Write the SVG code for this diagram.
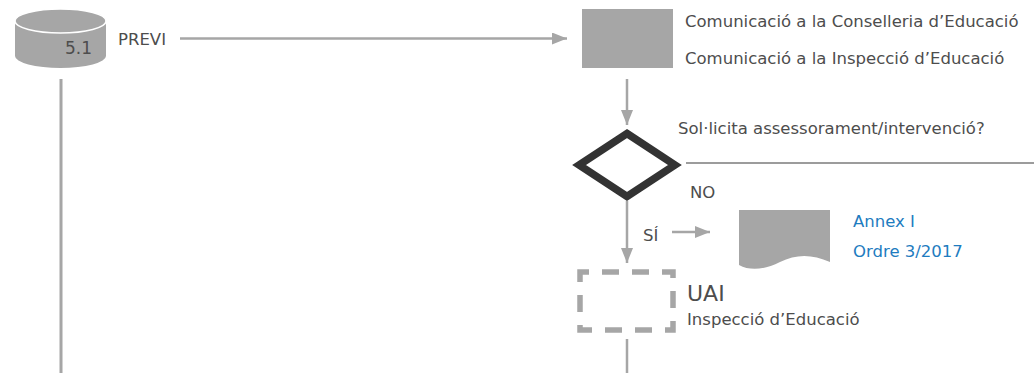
<svg xmlns="http://www.w3.org/2000/svg" width="1034" height="373" viewBox="0 0 1034 373">
<defs>
<style>
.t{font-family:"DejaVu Sans",Verdana,sans-serif;font-size:16.5px;fill:#4d4d4d}
.b{fill:#1e7cc0}
.ln{fill:none;stroke:#a6a6a6;stroke-width:2.5}
.sh{fill:#a6a6a6}
</style>
<marker id="ah" viewBox="0 0 15 12" refX="15" refY="6" markerWidth="15" markerHeight="12" markerUnits="userSpaceOnUse" orient="auto">
<path d="M0,0 L15,6 L0,12 Z" fill="#a6a6a6"/>
</marker>
</defs>
<rect width="1034" height="373" fill="#ffffff"/>
<g id="connectors">
<path class="ln" d="M180,38.5 H567" marker-end="url(#ah)"/>
<path class="ln" d="M627,79 V125" marker-end="url(#ah)"/>
<path class="ln" d="M627,201 V263" marker-end="url(#ah)"/>
<path class="ln" d="M672,232 H710" marker-end="url(#ah)"/>
<path class="ln" d="M627,339 V373"/>
<path class="ln" d="M61,79 V373" style="stroke-width:3"/>
<path fill="none" stroke="#9c9c9c" stroke-width="2.2" d="M686,163 H1034"/>
<text class="t" x="118" y="45">PREVI</text>
<text class="t" x="690" y="198">NO</text>
<text class="t" x="643" y="241">SÍ</text>
</g>
<g id="node-5-1">
<path class="sh" d="M15,21 V56 A45.5,12 0 0 0 106,56 V21 Z"/>
<ellipse cx="60.5" cy="21" rx="45.5" ry="12" fill="#a6a6a6" stroke="#ffffff" stroke-width="1.5"/>
<text class="t" x="65" y="54" style="font-size:17px">5.1</text>
</g>
<g id="node-comunicacio">
<rect class="sh" x="582" y="9" width="91" height="59"/>
<text class="t" x="685" y="27">Comunicació a la Conselleria d’Educació</text>
<text class="t" x="685" y="64">Comunicació a la Inspecció d’Educació</text>
</g>
<g id="node-decisio">
<polygon points="627,133.5 675,165 627,196.5 579,165" fill="#ffffff" stroke="#333333" stroke-width="7.5"/>
<text class="t" x="678" y="134">Sol·licita assessorament/intervenció?</text>
</g>
<g id="node-annex">
<path class="sh" d="M739,210 H830 V262 C812,254 796,254 780,262 C764,270 750,271 739,265 Z"/>
<text class="t b" x="853" y="227">Annex I</text>
<text class="t b" x="853" y="257">Ordre 3/2017</text>
</g>
<g id="node-uai">
<rect x="580" y="272" width="93" height="58" fill="none" stroke="#a6a6a6" stroke-width="5.5" stroke-dasharray="17 13" stroke-dashoffset="8"/>
<text class="t" x="687" y="301" style="font-size:22px">UAI</text>
<text class="t" x="687" y="325">Inspecció d’Educació</text>
</g>
</svg>
